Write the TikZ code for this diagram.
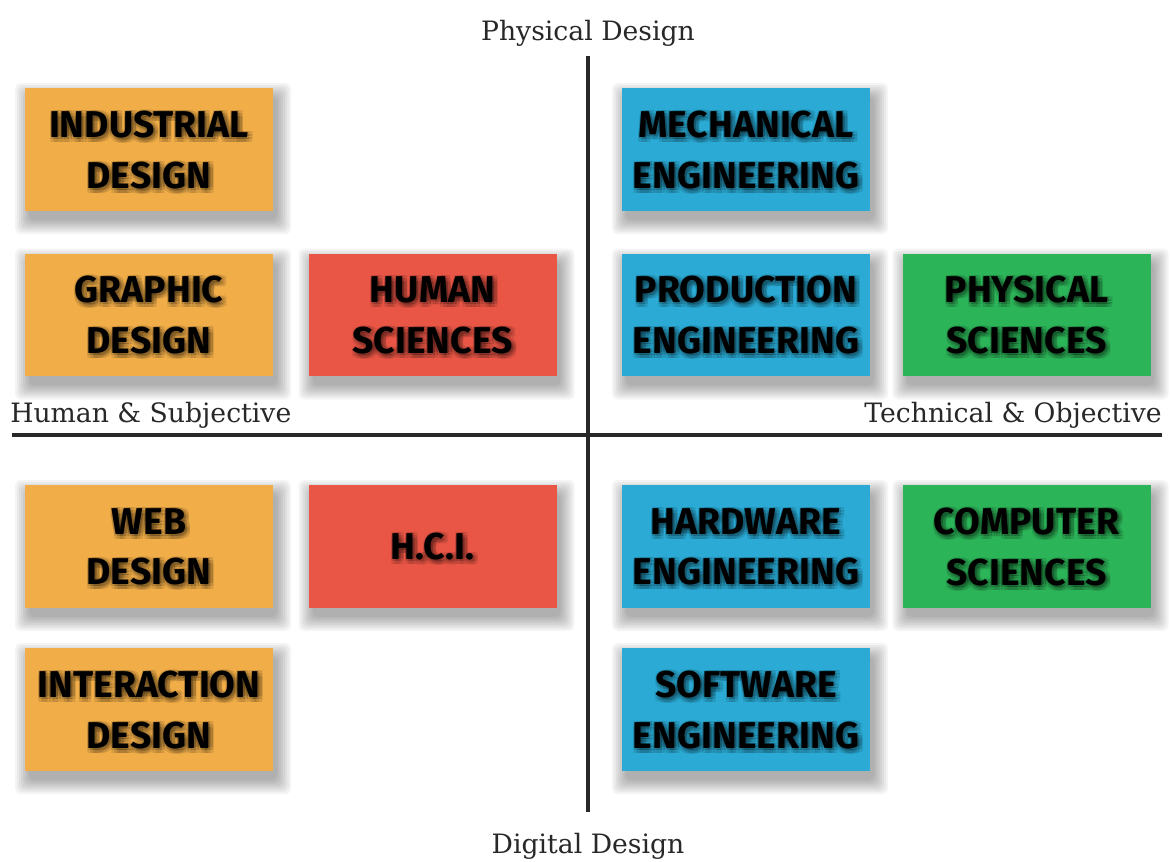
\documentclass[tikz,border=0pt]{standalone}
\usepackage{fontspec}
\setmainfont{DejaVu Serif}
\newfontfamily\boxfont{Fira Sans}
\definecolor{corange}{RGB}{241,173,72}
\definecolor{cred}{RGB}{234,86,70}
\definecolor{cblue}{RGB}{42,170,212}
\definecolor{cgreen}{RGB}{44,180,88}
\definecolor{axis}{RGB}{40,40,40}
\tikzset{
  cellbox/.style={draw=none, minimum width=186pt, minimum height=92pt, inner sep=0pt},
  cellshadow/.style={fill=black, fill opacity=0.045, rounded corners=4pt},
  celltext/.style={align=center, font=\boxfont\bfseries\fontsize{28}{38}\selectfont, inner sep=0pt, text depth=0pt},
  axislabel/.style={font=\fontsize{20}{23}\selectfont, text=axis, inner sep=0pt},
  axisline/.style={draw=axis, line width=2.3pt}
}
\newcommand\cell[5]{%
  \foreach \r in {0,2,...,14}
    \fill[cellshadow] ([shift={(-124+4-\r,-61.5+9-\r)}]#2,#3) rectangle ([shift={(124+4+\r,61.5+9+\r)}]#2,#3);
  \node[cellbox, fill=#4] (#1) at (#2,#3) {};
  \foreach \dx in {0,3,6} \foreach \dy in {0,3,6}
    \node[celltext, text=black, text opacity=0.10] at ([shift={(\dx-1,\dy-1)}]#1.center) {#5};
  \node[celltext] (#1t) at (#1.center) {#5};
}
\begin{document}
\begin{tikzpicture}[x=0.75pt, y=-0.75pt]
\useasboundingbox (0,0) rectangle (1170,861);
\fill[white] (0,0) rectangle (1170,861);
% axes
\coordinate (vtop) at (588,56);
\coordinate (vbot) at (588,812);
\coordinate (hl) at (12,435);
\coordinate (hr) at (1162,435);
\draw[axisline] (vtop) -- (vbot);
\draw[axisline] (hl) -- (hr);
\node[axislabel, anchor=base] (phys) at (588,40) {Physical Design};
\node[axislabel, anchor=base] (dig) at (588,853) {Digital Design};
\node[axislabel, anchor=base west] (hum) at (10,422) {Human \& Subjective};
\node[axislabel, anchor=base east] (tech) at (1162,422) {Technical \& Objective};
% cells
\cell{ind}{149}{149.5}{corange}{INDUSTRIAL\\DESIGN}
\cell{gra}{149}{315}{corange}{GRAPHIC\\DESIGN}
\cell{web}{149}{546.5}{corange}{WEB\\DESIGN}
\cell{ixd}{149}{709.5}{corange}{INTERACTION\\DESIGN}
\cell{hum}{432.5}{315}{cred}{HUMAN\\SCIENCES}
\cell{hci}{432.5}{546.5}{cred}{H.C.I.}
\cell{mec}{746}{149.5}{cblue}{MECHANICAL\\ENGINEERING}
\cell{pro}{746}{315}{cblue}{PRODUCTION\\ENGINEERING}
\cell{har}{746}{546.5}{cblue}{HARDWARE\\ENGINEERING}
\cell{sof}{746}{709.5}{cblue}{SOFTWARE\\ENGINEERING}
\cell{phy}{1026.5}{315}{cgreen}{PHYSICAL\\SCIENCES}
\cell{com}{1026.5}{546.5}{cgreen}{COMPUTER\\SCIENCES}
\end{tikzpicture}
\end{document}
